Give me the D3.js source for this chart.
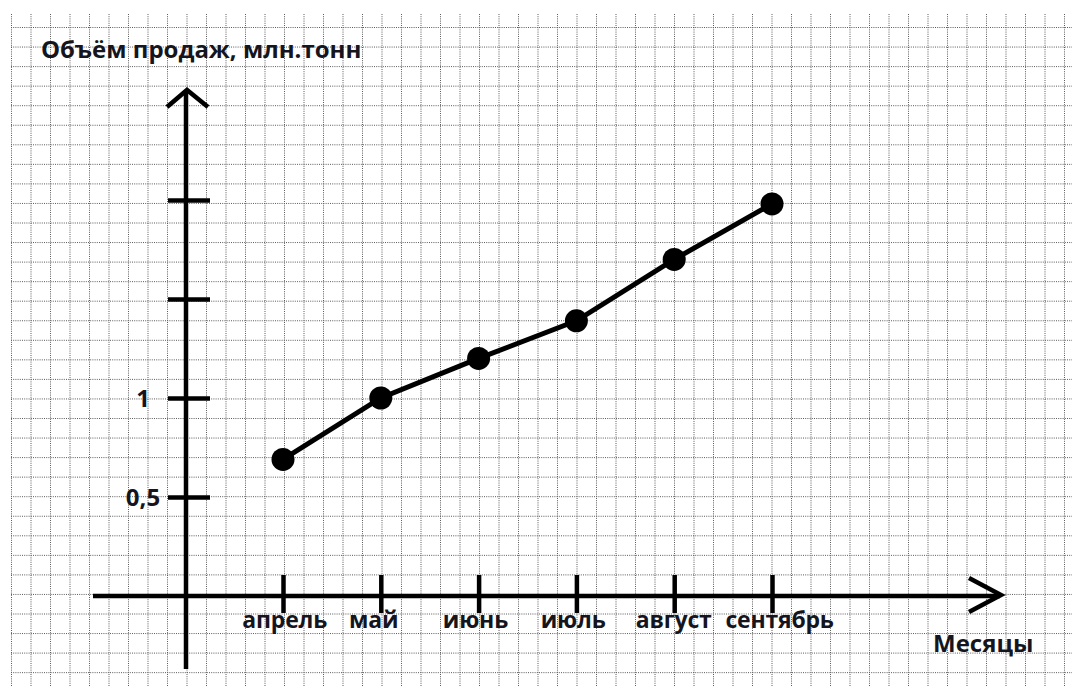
<!DOCTYPE html>
<html>
<head>
<meta charset="utf-8">
<script src="https://cdn.jsdelivr.net/npm/d3@7"></script>
<style>
  body { margin: 0; background: #fff; }
  svg text { font-family: "Open Sans", "Noto Sans", sans-serif; font-weight: bold; fill: #151520; }
</style>
</head>
<body>
<div id="chart"></div>
<script>
// data
var months = ["апрель", "май", "июнь", "июль", "август", "сентябрь"];
var sales = [0.69, 1.0, 1.2, 1.39, 1.7, 1.98];
var yTicks = [0.5, 1, 1.5, 2];
var yTickLabels = ["0,5", "1", "", ""];
var yTitle = "Объём продаж, млн.тонн";
var xTitle = "Месяцы";

var width = 1072,
    height = 686,
    origin = {x: 186, y: 596},
    cell = 19.5,
    fontSize = 24;

var svg = d3.select("#chart").append("svg")
    .attr("width", width)
    .attr("height", height);

svg.append("rect")
    .attr("width", width)
    .attr("height", height)
    .attr("fill", "#fff");

// dotted "squared paper" grid
var grid = svg.append("g").attr("class", "grid")
    .attr("stroke", "#5a5a5a")
    .attr("stroke-width", 1)
    .attr("stroke-dasharray", "1,1.2");

grid.selectAll("line.v")
    .data(d3.range(0, 55))
    .enter().append("line")
    .attr("class", "v")
    .attr("x1", function (i) { return 11.5 + i * cell; })
    .attr("x2", function (i) { return 11.5 + i * cell; })
    .attr("y1", 14)
    .attr("y2", height);

grid.selectAll("line.h")
    .data(d3.range(0, 34))
    .enter().append("line")
    .attr("class", "h")
    .attr("x1", 11)
    .attr("x2", width)
    .attr("y1", function (j) { return 27.5 + j * 19.55; })
    .attr("y2", function (j) { return 27.5 + j * 19.55; });

var x = d3.scalePoint().domain(months).range([283, 772]);
var y = d3.scaleLinear().domain([0, 2]).range([origin.y, 200]);

// axes lines with arrow heads
var axes = svg.append("g")
    .attr("fill", "none")
    .attr("stroke", "#000")
    .attr("stroke-width", 4.5)
    .attr("stroke-linecap", "butt");

axes.append("path")
    .attr("d", "M" + origin.x + ",669 L" + origin.x + ",90");
axes.append("path")
    .attr("stroke-linejoin", "miter")
    .attr("d", "M167,107 L" + (origin.x + 1) + ",90 L208,107");
axes.append("path")
    .attr("d", "M93," + origin.y + " L1000," + origin.y);
axes.append("path")
    .attr("d", "M969,578 L1001," + (origin.y - 1) + " L969,612");

// y ticks
var yAxis = svg.append("g")
    .attr("transform", "translate(" + origin.x + ",0)")
    .call(d3.axisLeft(y).tickValues(yTicks).tickSize(0)
        .tickFormat(function (d, i) { return yTickLabels[i]; }));
yAxis.select(".domain").remove();
yAxis.selectAll(".tick line")
    .attr("x1", -18)
    .attr("x2", 24)
    .attr("stroke", "#000")
    .attr("stroke-width", 4.5);
yAxis.selectAll(".tick text")
    .attr("x", -43)
    .attr("dy", "0.36em")
    .attr("text-anchor", "middle")
    .style("font-size", fontSize + "px")
    .attr("fill", null);

// x ticks; labels sit mostly to the right of their tick's left side
var xAxis = svg.append("g")
    .attr("transform", "translate(0," + origin.y + ")")
    .call(d3.axisBottom(x).tickSize(0));
xAxis.select(".domain").remove();
xAxis.selectAll(".tick line")
    .attr("y1", -21)
    .attr("y2", 17)
    .attr("stroke", "#000")
    .attr("stroke-width", 4.5);
xAxis.selectAll(".tick text")
    .attr("y", 32)
    .attr("dy", 0)
    .attr("text-anchor", "start")
    .style("font-size", "23px")
    .style("letter-spacing", "-0.2px")
    .attr("fill", null)
    .attr("x", function () {
      var w = this.getComputedTextLength();
      return -0.25 * w - 20;
    });

// titles
svg.append("text")
    .attr("x", 41)
    .attr("y", 58)
    .style("font-size", fontSize + "px")
    .text(yTitle);

svg.append("text")
    .attr("x", 933)
    .attr("y", 652)
    .style("font-size", fontSize + "px")
    .text(xTitle);

// the series
var points = months.map(function (m, i) { return {month: m, value: sales[i]}; });

var line = d3.line()
    .x(function (d) { return x(d.month); })
    .y(function (d) { return y(d.value); });

svg.append("path")
    .datum(points)
    .attr("fill", "none")
    .attr("stroke", "#000")
    .attr("stroke-width", 5)
    .attr("d", line);

svg.selectAll("circle.dot")
    .data(points)
    .enter().append("circle")
    .attr("class", "dot")
    .attr("cx", function (d) { return x(d.month); })
    .attr("cy", function (d) { return y(d.value); })
    .attr("r", 11.5)
    .attr("fill", "#000");
</script>
</body>
</html>
